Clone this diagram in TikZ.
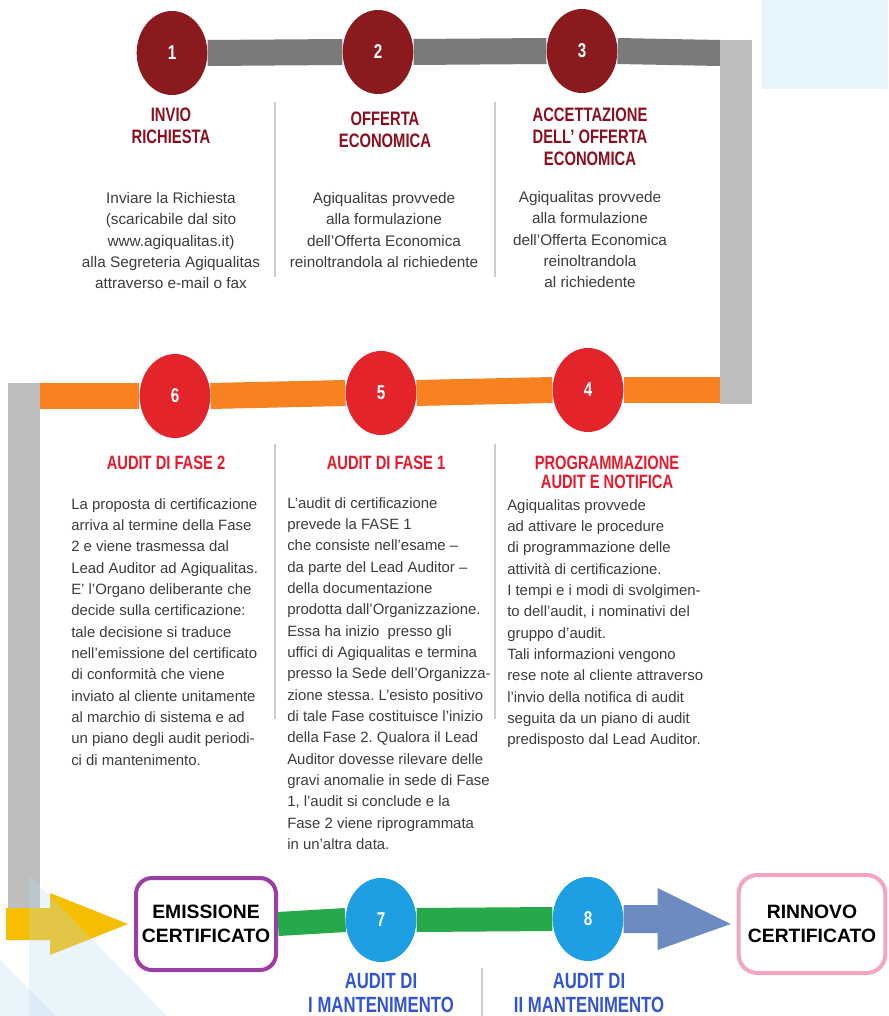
\documentclass[tikz,border=0pt]{standalone}
\usepackage{fontspec}
\setmainfont{Liberation Sans}
\newfontfamily\condfont[FakeStretch=0.76]{Liberation Sans}
\usepackage{tikz}
\usetikzlibrary{shapes.geometric, calc, positioning}

\definecolor{vino}{HTML}{8B1A1F}
\definecolor{vinotesto}{HTML}{8A1020}
\definecolor{grigio}{HTML}{7A7A7A}
\definecolor{grigiochiaro}{HTML}{BEBEBE}
\definecolor{arancio}{HTML}{F7821F}
\definecolor{rosso}{HTML}{E3242B}
\definecolor{rossotesto}{HTML}{E8192C}
\definecolor{verde}{HTML}{25A94A}
\definecolor{azzurro}{HTML}{1E9FE3}
\definecolor{acciaio}{HTML}{6C8CC1}
\definecolor{giallo}{HTML}{F6BE00}
\definecolor{viola}{HTML}{9A3EA5}
\definecolor{rosa}{HTML}{F3A6C4}
\definecolor{celeste}{HTML}{E6F4FC}
\definecolor{celestescuro}{HTML}{B9D9F1}
\definecolor{grigiotesto}{HTML}{3C3C3C}
\definecolor{blutesto}{HTML}{3355D0}
\definecolor{separ}{HTML}{CCCCCC}

\begin{document}
\frenchspacing
\begin{tikzpicture}[x=0.75pt,y=-0.75pt,
    tappa/.style={ellipse,minimum width=53pt,minimum height=63pt,inner sep=0pt,text=white,
      font=\condfont\bfseries\fontsize{15}{15}\selectfont},
    titolo/.style={anchor=north,inner sep=0pt,align=center,text=vinotesto,
      font=\condfont\bfseries\fontsize{14.6}{16.5}\selectfont},
    titolorosso/.style={titolo,text=rossotesto,font=\condfont\bfseries\fontsize{14.5}{14.25}\selectfont},
    testo/.style={anchor=north,inner sep=0pt,align=center,text=grigiotesto,
      font=\fontsize{11.5}{16}\selectfont},
    testosx/.style={anchor=north west,inner sep=0pt,align=left,text=grigiotesto,
      font=\fontsize{11.2}{16}\selectfont},
    etichetta/.style={anchor=north,inner sep=0pt,align=center,text=blutesto,
      font=\condfont\bfseries\fontsize{16.5}{18}\selectfont},
    riquadro/.style={rectangle,rounded corners=12pt,line width=3pt,minimum width=105pt,
      minimum height=69pt,align=center,font=\bfseries\fontsize{14.5}{18}\selectfont},
    barra/.style={line width=19.5pt},
    colonna/.style={line width=24pt,grigiochiaro},
    divisore/.style={draw=separ,line width=1.5pt}]
\useasboundingbox (0,0) rectangle (888,1016);
\fill[celeste] (762,0) rectangle (888,89);

\node[tappa,fill=vino] (c1) at (172,53) {1};
\node[tappa,fill=vino] (c2) at (378,52) {2};
\node[tappa,fill=vino] (c3) at (582,51) {3};
\node[tappa,fill=rosso] (c4) at (588,390) {4};
\node[tappa,fill=rosso] (c5) at (381,393) {5};
\node[tappa,fill=rosso] (c6) at (175,396) {6};
\node[tappa,fill=azzurro] (c7) at (381,920) {7};
\node[tappa,fill=azzurro] (c8) at (588,919) {8};

\coordinate (gA) at (720,53);
\coordinate (gB) at (736,40);
\coordinate (gC) at (736,404);
\coordinate (gD) at (720,390);
\coordinate (gE) at (40,396);
\coordinate (gF) at (24,383);
\coordinate (gG) at (24,935);

\draw[barra,grigio] (c1.east) -- (c2.west);
\draw[barra,grigio] (c2.east) -- (c3.west);
\draw[barra,grigio] (c3.east) -- (gA);
\draw[colonna] (gB) -- (gC);
\draw[barra,arancio] (c4.east) -- (gD);
\draw[barra,arancio] (c4.west) -- (c5.east);
\draw[barra,arancio] (c5.west) -- (c6.east);
\draw[barra,arancio] (c6.west) -- (gE);
\draw[colonna] (gF) -- (gG);

\node[titolo] (t1) at (171,108) {INVIO\\RICHIESTA};
\node[titolo] (t2) at (385,112) {OFFERTA\\ECONOMICA};
\node[titolo] (t3) at (590,108) {ACCETTAZIONE\\DELL’ OFFERTA\\ECONOMICA};
\node[testo] (d1) at (171,192) {Inviare la Richiesta\\(scaricabile dal sito\\www.agiqualitas.it)\\alla Segreteria Agiqualitas\\attraverso e-mail o fax};
\node[testo] (d2) at (384,192) {Agiqualitas provvede\\alla formulazione\\dell’Offerta Economica\\reinoltrandola al richiedente};
\node[testo] (d3) at (590,191) {Agiqualitas provvede\\alla formulazione\\dell’Offerta Economica\\reinoltrandola\\al richiedente};

\draw[divisore] (275,102) -- (275,277);
\draw[divisore] (495,102) -- (495,277);
\draw[divisore] (275,444) -- (275,719);
\draw[divisore] (495,444) -- (495,719);
\draw[divisore] (482,968) -- (482,1016);

\node[titolorosso] (t6) at (166,456) {AUDIT DI FASE 2};
\node[titolorosso] (t5) at (386,456) {AUDIT DI FASE 1};
\node[titolorosso] (t4) at (607,456) {PROGRAMMAZIONE\\AUDIT E NOTIFICA};

\node[testosx] (d6) at (71,498) {La proposta di certificazione\\
arriva al termine della Fase\\
2 e viene trasmessa dal\\
Lead Auditor ad Agiqualitas.\\
E’ l’Organo deliberante che\\
decide sulla certificazione:\\
tale decisione si traduce\\
nell’emissione del certificato\\
di conformità che viene\\
inviato al cliente unitamente\\
al marchio di sistema e ad\\
un piano degli audit periodi-\\
ci di mantenimento.};
\node[testosx] (d5) at (287,497) {L’audit di certificazione\\
prevede la FASE 1\\
che consiste nell’esame –\\
da parte del Lead Auditor –\\
della documentazione\\
prodotta dall’Organizzazione.\\
Essa ha inizio \ presso gli\\
uffici di Agiqualitas e termina\\
presso la Sede dell’Organizza-\\
zione stessa. L’esisto positivo\\
di tale Fase costituisce l’inizio\\
della Fase 2. Qualora il Lead\\
Auditor dovesse rilevare delle\\
gravi anomalie in sede di Fase\\
1, l’audit si conclude e la\\
Fase 2 viene riprogrammata\\
in un’altra data.};
\node[testosx] (d4) at (507,499) {Agiqualitas provvede\\
ad attivare le procedure\\
di programmazione delle\\
attività di certificazione.\\
I tempi e i modi di svolgimen-\\
to dell’audit, i nominativi del\\
gruppo d’audit.\\
Tali informazioni vengono\\
rese note al cliente attraverso\\
l’invio della notifica di audit\\
seguita da un piano di audit\\
predisposto dal Lead Auditor.};

\node[riquadro,draw=viola] (em) at (206,924) {EMISSIONE\\CERTIFICATO};
\node[riquadro,draw=rosa,minimum width=110pt,minimum height=73.5pt,rounded corners=14pt] (rn) at (812,924) {RINNOVO\\CERTIFICATO};
\draw[line width=18pt,verde] (em.east) -- (c7.west);
\draw[line width=18pt,verde] (c7.east) -- (c8.west);
\fill[giallo] ($(em.west)+(-128,-16)$) -- ($(em.west)+(-84,-16)$) -- ($(em.west)+(-84,-31)$) -- ($(em.west)+(-6,0)$)
  -- ($(em.west)+(-84,31)$) -- ($(em.west)+(-84,16)$) -- ($(em.west)+(-128,16)$) -- cycle;
\fill[acciaio] ($(c8.east)+(0,-14)$) -- ($(c8.east)+(34,-14)$) -- ($(c8.east)+(34,-31)$) -- ($(rn.west)+(-6,0)$)
  -- ($(c8.east)+(34,31)$) -- ($(c8.east)+(34,14)$) -- ($(c8.east)+(0,14)$) -- cycle;

\node[etichetta] (e7) at (381,973) {AUDIT DI\\I MANTENIMENTO};
\node[etichetta] (e8) at (589,973) {AUDIT DI\\II MANTENIMENTO};

\fill[celestescuro,opacity=0.3] (29,875) -- (167,1016) -- (29,1016) -- cycle;
\fill[celestescuro,opacity=0.3] (0,960) -- (56,1016) -- (0,1016) -- cycle;
\end{tikzpicture}
\end{document}
